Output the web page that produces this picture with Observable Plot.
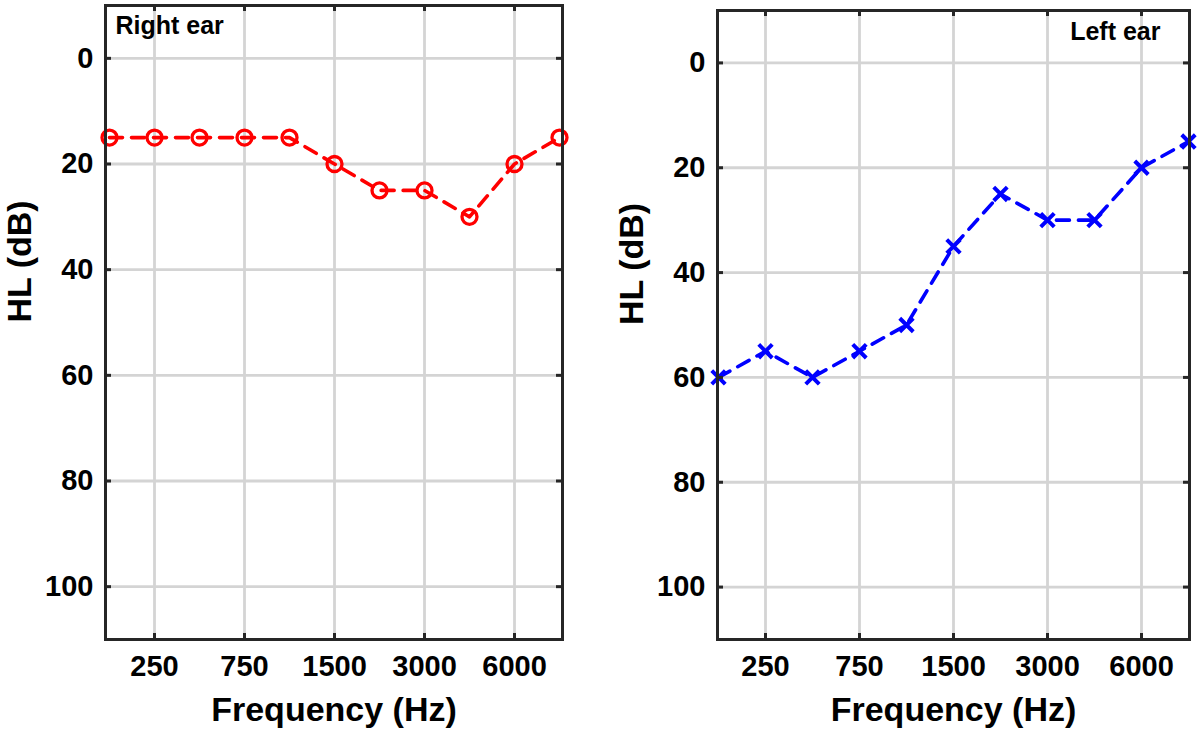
<!DOCTYPE html>
<html>
<head>
<meta charset="utf-8">
<script src="https://cdn.jsdelivr.net/npm/d3@7"></script>
<script src="https://cdn.jsdelivr.net/npm/@observablehq/plot@0.6"></script>
<style>
  body { margin: 0; background: #fff; }
  #wrap { position: relative; width: 1200px; height: 730px; overflow: hidden; }
  .panel { position: absolute; top: 0; }
  #leftPanel { left: 0; }
  #rightPanel { left: 600px; }
</style>
</head>
<body>
<div id="wrap">
  <div class="panel" id="leftPanel"></div>
  <div class="panel" id="rightPanel"></div>
</div>
<script>
// ---- data ----
const frequencies = ["125", "250", "500", "750", "1000", "1500", "2000", "3000", "4000", "6000", "8000"];
const frequencyTicks = ["250", "750", "1500", "3000", "6000"];
const hlTicks = [0, 20, 40, 60, 80, 100];
const hlDomain = [-10, 110];
const rightEarHL = [15, 15, 15, 15, 15, 20, 25, 25, 30, 20, 15];
const leftEarHL = [60, 55, 60, 55, 50, 35, 25, 30, 30, 20, 15];

const FONT = "'Liberation Sans', Arial, Helvetica, sans-serif";
const AXIS = "#262626";
const GRID = "#d4d4d4";

function panel({values, color, symbol, r, symbolWidth, title, titleAnchor, titleDx, titleDy,
                marginLeft, marginRight, marginTop}) {
  const W = 600, H = 730, marginBottom = 91;
  const innerW = W - marginLeft - marginRight;
  const innerH = H - marginTop - marginBottom;
  const data = frequencies.map((f, i) => ({freq: f, hl: values[i]}));
  const tick = 6;
  return Plot.plot({
    width: W, height: H,
    marginLeft, marginRight, marginTop, marginBottom,
    style: {fontFamily: FONT, fontWeight: "bold", color: "#000", background: "#fff", overflow: "visible"},
    x: {type: "point", domain: frequencies, padding: 0, axis: null},
    y: {domain: hlDomain, reverse: true, axis: null},
    marks: [
      Plot.gridX(frequencyTicks, {stroke: GRID, strokeOpacity: 1, strokeWidth: 2.8}),
      Plot.gridY(hlTicks, {stroke: GRID, strokeOpacity: 1, strokeWidth: 2.8}),
      Plot.line(data, {x: "freq", y: "hl", stroke: color, strokeWidth: 3.6, strokeDasharray: "13,9"}),
      Plot.dot(data, {x: "freq", y: "hl", symbol, r, stroke: color, strokeWidth: symbolWidth, fill: "none"}),
      Plot.frame({stroke: AXIS, strokeWidth: 3}),
      // inward ticks on all four sides (MATLAB box style)
      Plot.tickX(frequencyTicks, {x: d => d, insetTop: innerH - tick, stroke: AXIS, strokeWidth: 3}),
      Plot.tickX(frequencyTicks, {x: d => d, insetBottom: innerH - tick, stroke: AXIS, strokeWidth: 3}),
      Plot.tickY(hlTicks, {y: d => d, insetRight: innerW - tick, stroke: AXIS, strokeWidth: 3}),
      Plot.tickY(hlTicks, {y: d => d, insetLeft: innerW - tick, stroke: AXIS, strokeWidth: 3}),
      Plot.axisX(frequencyTicks, {anchor: "bottom", tickSize: 0, tickPadding: 16, fontSize: 29, fontWeight: "bold", label: null}),
      Plot.axisY(hlTicks, {anchor: "left", tickSize: 0, tickPadding: 12, fontSize: 29, fontWeight: "bold", label: null}),
      Plot.text(["Frequency (Hz)"], {frameAnchor: "bottom", lineAnchor: "bottom", dy: 81, fontSize: 34, fontWeight: "bold", fill: "#000"}),
      Plot.text(["HL (dB)"], {frameAnchor: "left", rotate: -90, dx: -85, fontSize: 34, fontWeight: "bold", fill: "#000"}),
      Plot.text([title], {frameAnchor: titleAnchor, textAnchor: titleAnchor === "top-left" ? "start" : "end",
        lineAnchor: "top", dx: titleDx, dy: titleDy, fontSize: 25, fontWeight: "bold", fill: "#000"})
    ]
  });
}

document.getElementById("leftPanel").append(panel({
  values: rightEarHL, color: "#ff0000", symbol: "circle", r: 7.5, symbolWidth: 3.3,
  title: "Right ear", titleAnchor: "top-left", titleDx: 10, titleDy: 11,
  marginLeft: 105, marginRight: 38, marginTop: 5
}));

document.getElementById("rightPanel").append(panel({
  values: leftEarHL, color: "#0000ff", symbol: "times", r: 6.2, symbolWidth: 4,
  title: "Left ear", titleAnchor: "top-right", titleDx: -29, titleDy: 12,
  marginLeft: 117, marginRight: 11, marginTop: 10
}));
</script>
</body>
</html>
